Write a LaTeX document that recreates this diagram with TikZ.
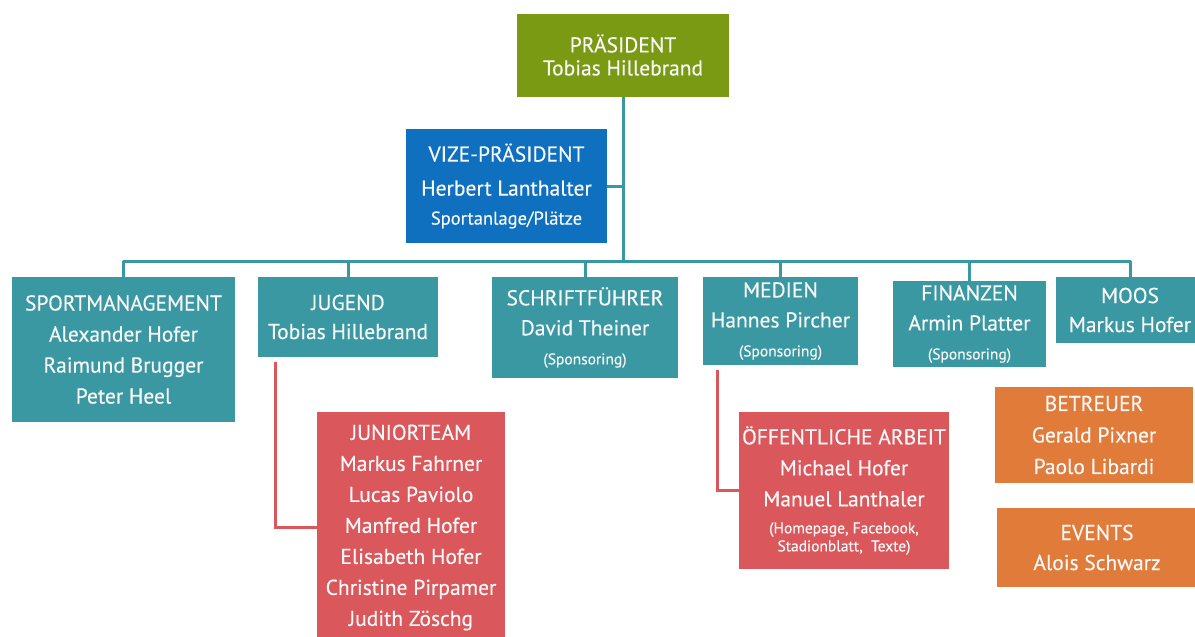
\documentclass[tikz,border=0pt]{standalone}
\usepackage{fontspec}
\setmainfont{PT Sans}[FakeBold=0.4]
\definecolor{cgreen}{HTML}{7A9A14}
\definecolor{cblue}{HTML}{1070C0}
\definecolor{cteal}{HTML}{3A98A2}
\definecolor{cred}{HTML}{DA585C}
\definecolor{corange}{HTML}{E07B3A}
\definecolor{ctxt}{HTML}{F7F7F7}
\newcommand\smalltxt{\fontsize{15.5}{18}\selectfont}
\newcommand\midtxt{\fontsize{18.5}{21}\selectfont}
\begin{document}
\begin{tikzpicture}[x=1pt,y=-1pt,
  box/.style={rectangle, inner sep=0pt, text=ctxt, align=center, font=\fontsize{21.5}{31}\selectfont},
  tealbox/.style={box, fill=cteal},
  redbox/.style={box, fill=cred},
  orangebox/.style={box, fill=corange},
  tealline/.style={draw=cteal, line width=3pt},
  redline/.style={draw=cred, line width=3pt}]
\useasboundingbox (0,0) rectangle (1195,637);
\clip (0,0) rectangle (1195,637);
% top
\node[box, fill=cgreen, minimum width=212pt, minimum height=83pt, font=\fontsize{21.5}{23}\selectfont] (pres) at (623,55) {PRÄSIDENT\\Tobias Hillebrand};
\node[box, fill=cblue, minimum width=201pt, minimum height=114pt, font=\fontsize{21.5}{34}\selectfont] (vize) at (506.5,186) {VIZE-PRÄSIDENT\\Herbert Lanthalter\\[-5pt]{\midtxt Sportanlage/Plätze}};
% second row
\node[tealbox, minimum width=223pt, minimum height=145pt] (sport) at (123.5,349.5) {SPORTMANAGEMENT\\Alexander Hofer\\Raimund Brugger\\Peter Heel};
\node[tealbox, minimum width=180pt, minimum height=80pt, font=\fontsize{21.5}{29}\selectfont] (jug) at (348,317) {JUGEND\\Tobias Hillebrand};
\node[tealbox, minimum width=186pt, minimum height=101pt, font=\fontsize{21.5}{30}\selectfont] (schrift) at (585,327.5) {SCHRIFTFÜHRER\\David Theiner\\[-1pt]{\smalltxt (Sponsoring)}};
\node[tealbox, minimum width=155pt, minimum height=88pt, font=\fontsize{21.5}{30}\selectfont] (medien) at (780.5,321) {MEDIEN\\Hannes Pircher\\[-1pt]{\smalltxt (Sponsoring)}};
\node[tealbox, minimum width=153pt, minimum height=86pt, font=\fontsize{21.5}{30}\selectfont] (fin) at (969.5,324) {FINANZEN\\Armin Platter\\[-1pt]{\smalltxt (Sponsoring)}};
\node[tealbox, minimum width=148pt, minimum height=66pt, font=\fontsize{21.5}{29}\selectfont] (moos) at (1130,310) {MOOS\\Markus Hofer};
% third level
\node[redbox, minimum width=188pt, minimum height=231pt] (junior) at (411,527.5) {JUNIORTEAM\\Markus Fahrner\\Lucas Paviolo\\Manfred Hofer\\Elisabeth Hofer\\Christine Pirpamer\\Judith Zöschg};
\node[redbox, minimum width=210pt, minimum height=157pt] (oeff) at (844,490.5) {ÖFFENTLICHE ARBEIT\\Michael Hofer\\Manuel Lanthaler\\[-4pt]{\smalltxt (Homepage, Facebook,}\\[-13pt]{\smalltxt Stadionblatt,\ \ Texte)}};
\node[orangebox, minimum width=198pt, minimum height=96pt, font=\fontsize{21.5}{31.5}\selectfont] (betr) at (1094,435) {BETREUER\\Gerald Pixner\\Paolo Libardi};
\node[orangebox, minimum width=200pt, minimum height=79pt, font=\fontsize{21.5}{30}\selectfont] (events) at (1097,547.5) {EVENTS\\Alois Schwarz};
% connectors
\coordinate (trunk) at (623,261);
\coordinate (jugA) at (275,362);
\coordinate (medA) at (717,370);
\draw[tealline] (pres.south) -- (trunk);
\draw[tealline] (vize.east) -- (vize.east -| trunk);
\draw[tealline, line join=round] (sport.north) -- (sport.north |- trunk) -- (moos.north |- trunk) -- (moos.north);
\foreach \n in {jug,schrift,medien,fin}{
  \draw[tealline] (\n.north) -- (\n.north |- trunk);
}
\draw[redline] (jugA) |- (junior.west);
\draw[redline] (medA) |- (oeff.west);
\end{tikzpicture}
\end{document}
